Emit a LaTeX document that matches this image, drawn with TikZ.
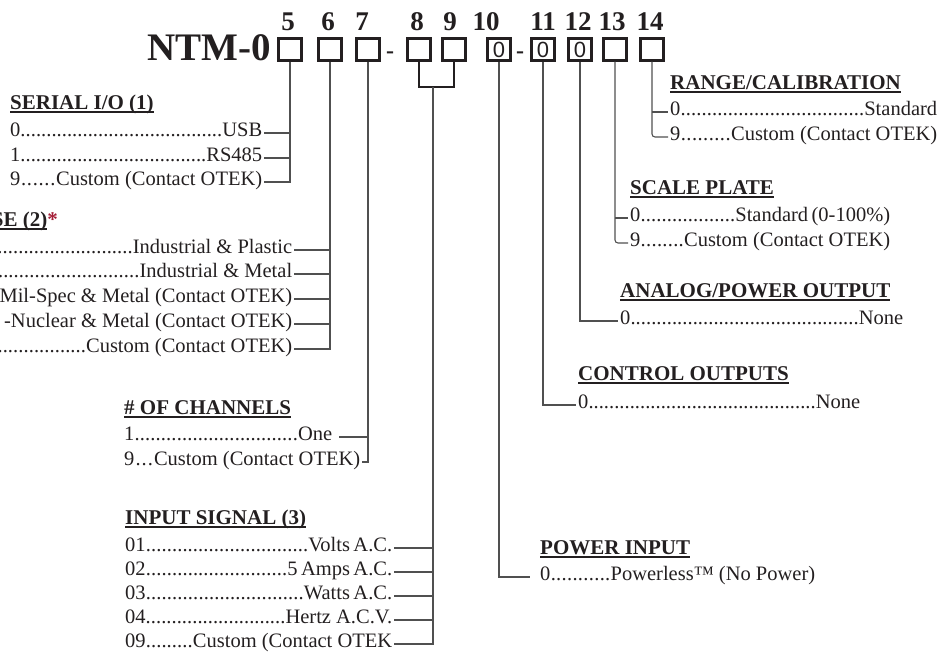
\documentclass[tikz,border=0pt]{standalone}
\usepackage{fontspec}
\setmainfont{Liberation Serif}
\newfontfamily\slotfont{Liberation Sans}
\definecolor{OtekInk}{RGB}{35,31,32}
\definecolor{OtekLine}{RGB}{80,80,80}
\definecolor{OtekRed}{RGB}{165,30,55}
\newcommand\lead[3]{\hbox to #1pt{#2\xleaders\hbox{.}\hfill#3}}
\newcommand\ulhead[1]{\setbox0\hbox{#1}\rlap{\rule[-3pt]{\wd0}{1.4pt}}\box0}

\begin{document}
\begin{tikzpicture}[x=1pt,y=-1pt,
  every node/.style={text=OtekInk},
  optrow/.style={anchor=west,inner xsep=2pt,inner ysep=0pt,font=\fontsize{20.5}{24}\selectfont,text height=0.9em,text depth=0.2em},
  head/.style={anchor=west,inner xsep=0pt,inner ysep=0pt,font=\bfseries\fontsize{21}{25}\selectfont,text height=0.9em,text depth=0.2em},
  slot/.style={draw=OtekInk,line width=2.3pt,minimum width=23pt,minimum height=22pt,inner sep=0pt,font=\slotfont\fontsize{22}{22}\selectfont},
  digit/.style={anchor=base,inner sep=0pt,font=\bfseries\fontsize{27}{28}\selectfont},
  hyph/.style={anchor=base,inner sep=0pt,font=\bfseries\fontsize{24}{24}\selectfont},
  link/.style={draw=OtekLine,line width=1.1pt},
  bracket/.style={draw=OtekInk,line width=2.2pt}]
  \useasboundingbox (0,0) rectangle (949,653);

  \node[anchor=base east,inner sep=0pt,font=\bfseries\fontsize{39}{40}\selectfont] (model) at (271,60) {NTM-0};
  \foreach \n/\x in {5/290,6/330,7/368,8/419,9/454,13/615,14/652}
    \node[slot] (b\n) at (\x,49.5) {};
  \foreach \n/\x in {10/499,11/543,12/580}
    \node[slot] (b\n) at (\x,49.5) {0};
  \foreach \n/\x in {5/288,6/328,7/362,8/417,9/450,10/486,11/543,12/578,13/612,14/650}
    \node[digit] (n\n) at (\x,30) {\n};
  \node[hyph] (dash1) at (390,58) {-};
  \node[hyph] (dash2) at (520,58) {-};

  \node[head] (hser) at (10,106) {\ulhead{SERIAL I/O (1)}};
  \node[optrow] (ser0) at (8,133) {\lead{252}{0}{USB}};
  \node[optrow] (ser1) at (8,158) {\lead{252}{1}{RS485}};
  \node[optrow] (ser9) at (8,182) {\lead{252}{9}{Custom (Contact OTEK)}};

  \node[head,anchor=east] (hcase) at (58,223) {\ulhead{CASE (2)}\textcolor{OtekRed}{*}};
  \node[optrow] (case1) at (-62,250) {\lead{352}{}{Industrial \& Plastic}};
  \node[optrow] (case2) at (-62,274) {\lead{352}{}{Industrial \& Metal}};
  \node[optrow] (case3) at (-62,299) {\hbox to 352pt{\hfill Mil-Spec \& Metal (Contact OTEK)}};
  \node[optrow] (case4) at (-62,324) {\hbox to 352pt{\hfill -Nuclear \& Metal (Contact OTEK)}};
  \node[optrow] (case5) at (-62,349) {\lead{352}{}{Custom (Contact OTEK)}};

  \node[head] (hch) at (124,411) {\ulhead{\# OF CHANNELS}};
  \node[optrow] (ch1) at (122,437) {\lead{213}{1}{One\hspace{5pt}}};
  \node[optrow] (ch9) at (122,462) {\lead{236}{9}{Custom (Contact OTEK)}};

  \node[head] (hin) at (125,521) {\ulhead{INPUT SIGNAL (3)}};
  \node[optrow] (in01) at (123,548) {\lead{267}{01}{Volts\,A.C.}};
  \node[optrow] (in02) at (123,572) {\lead{267}{02}{5\,Amps\,A.C.}};
  \node[optrow] (in03) at (123,596) {\lead{267}{03}{Watts\,A.C.}};
  \node[optrow] (in04) at (123,620) {\lead{267}{04}{Hertz A.C.V.}};
  \node[optrow] (in09) at (123,644) {\lead{267}{09}{Custom (Contact OTEK}};

  \node[head] (hrange) at (670,86) {\ulhead{RANGE/CALIBRATION}};
  \node[optrow] (range0) at (668,112) {\lead{267}{0}{Standard}};
  \node[optrow] (range9) at (668,137) {\lead{267}{9}{Custom (Contact OTEK)}};

  \node[head] (hscale) at (630,191) {\ulhead{SCALE PLATE}};
  \node[optrow] (scale0) at (628,218) {\lead{260}{0}{Standard\,(0-100\%)}};
  \node[optrow] (scale9) at (628,243) {\lead{260}{9}{Custom (Contact OTEK)}};

  \node[head] (hana) at (620,294) {\ulhead{ANALOG/POWER OUTPUT}};
  \node[optrow] (ana0) at (618,321) {\lead{283}{0}{None}};

  \node[head] (hctl) at (578,377) {\ulhead{CONTROL OUTPUTS}};
  \node[optrow] (ctl0) at (576,405) {\lead{282}{0}{None}};

  \node[head] (hpwr) at (540,551) {\ulhead{POWER INPUT}};
  \node[optrow] (pwr0) at (538,577) {\lead{275}{0}{Powerless™ (No Power)}};

  \draw[link] (b5.south) |- (ser9.east);
  \foreach \r in {ser0,ser1} \draw[link] (\r.east) -- (\r.east -| b5.south);
  \draw[link] (b6.south) |- (case5.east);
  \foreach \r in {case1,case2,case3,case4} \draw[link] (\r.east) -- (\r.east -| b6.south);
  \draw[link] (b7.south) |- (ch9.east);
  \draw[link] (ch1.east) -- (ch1.east -| b7.south);
  \coordinate (split) at (433,87);
  \draw[bracket] (b8.south) |- (split) -| (b9.south);
  \draw[link] (split) |- (in09.east);
  \foreach \r in {in01,in02,in03,in04} \draw[link] (\r.east) -- (\r.east -| split);
  \draw[link] (b10.south) |- ([xshift=-8pt]pwr0.west);
  \draw[link] (b11.south) |- (ctl0.west);
  \draw[link] (b12.south) |- (ana0.west);
  \draw[link,rounded corners=3pt] (b13.south) |- (scale9.west);
  \draw[link] (scale0.west -| b13.south) -- (scale0.west);
  \draw[link,rounded corners=3pt] (b14.south) |- (range9.west);
  \draw[link] (range0.west -| b14.south) -- (range0.west);
\end{tikzpicture}
\end{document}
